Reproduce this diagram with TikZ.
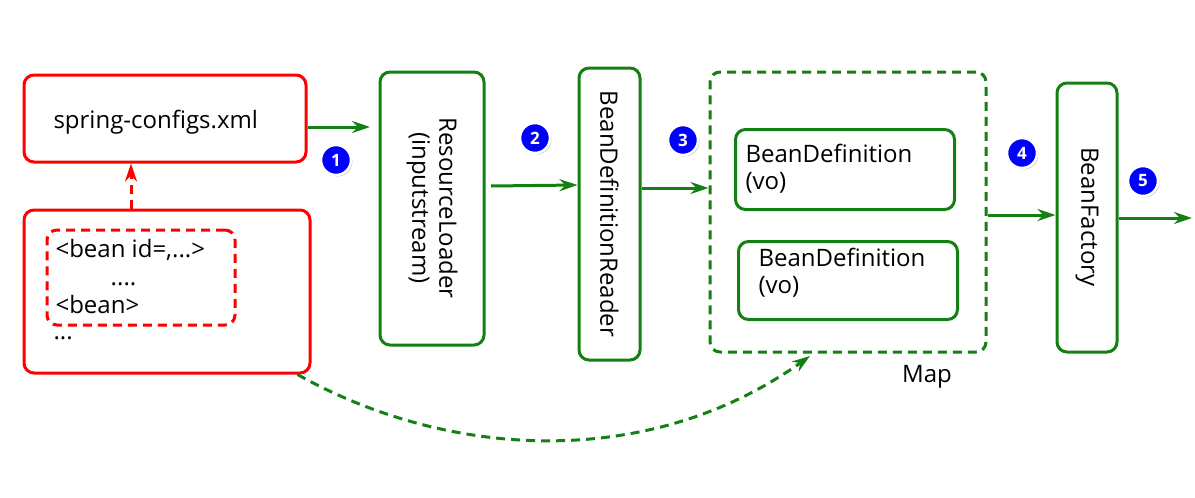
\documentclass[tikz,border=0pt]{standalone}
\usepackage{fontspec}
\setmainfont{Open Sans}
\usetikzlibrary{arrows.meta,shadows}
\definecolor{gr}{RGB}{20,128,20}
\begin{document}
\begin{tikzpicture}[x=1pt,y=-1pt,
 font=\fontsize{24}{32}\selectfont,
 dsh/.style={dash pattern=on 9pt off 6pt},
 rbox/.style={draw=red,line width=3pt,rounded corners=10pt},
 gbox/.style={draw=gr,line width=3pt,rounded corners=10pt},
 garr/.style={draw=gr,line width=3pt,-{Stealth[length=18pt,width=12pt]}},
 num/.style={circle,fill=blue,draw=white,line width=2.5pt,text=white,inner sep=0pt,minimum size=30pt,font=\bfseries\fontsize{17}{17}\selectfont,drop shadow={shadow xshift=1.5pt,shadow yshift=-1.5pt,opacity=0.4}}]
\useasboundingbox (0,0) rectangle (1195,498);
\node[rbox,minimum width=282pt,minimum height=87pt] (cfg) at (165,118.5) {};
\node[anchor=west] (cfgt) at (50,122) {spring-configs.xml};
\node[rbox,minimum width=286pt,minimum height=163pt] (bean) at (167,291.5) {};
\node[rbox,dsh,minimum width=188pt,minimum height=95pt] (inner) at (141,277.5) {};
\node[anchor=west,align=left] (bt) at (52,276) {<bean id=,...>\\[-4pt]\hspace*{2.3em}....\\[-4pt]<bean>};
\node[anchor=west] (dots) at (50,338) {...};
\node[gbox,minimum width=104pt,minimum height=273pt] (rl) at (432,208.5) {};
\node[rotate=-90,align=center] (rlt) at (432,208) {ResourceLoader\\[-5pt](inputstream)};
\node[gbox,minimum width=61pt,minimum height=292pt] (bdr) at (609.5,214) {};
\node[rotate=-90] (bdrt) at (609.5,214) {BeanDefinitionReader};
\node[gbox,dsh,minimum width=276pt,minimum height=280pt] (map) at (848,212) {};
\node (mapt) at (927,377) {Map};
\node[gbox,minimum width=219pt,minimum height=80pt,anchor=north west] (bd1) at (734,128) {};
\node[anchor=north west,align=left] (bd1t) at (742,141) {BeanDefinition\\[-5pt](vo)};
\node[gbox,minimum width=219pt,minimum height=78pt,anchor=north west] (bd2) at (737,240) {};
\node[anchor=north west,align=left] (bd2t) at (755,245) {BeanDefinition\\[-5pt](vo)};
\node[gbox,minimum width=60pt,minimum height=269pt] (bf) at (1087,217.5) {};
\node[rotate=-90] (bft) at (1087,217) {BeanFactory};
\coordinate (e) at (1192,218);
\draw[garr] (cfg.east |- 0,127) -- (370,127);
\draw[garr] (491,186) -- (bdr.west |- 0,185);
\draw[garr] (bdr.east |- 0,188) -- (map.west |- 0,188);
\draw[garr] (map.east |- 0,215) -- (bf.west |- 0,215);
\draw[garr] (bf.east |- 0,218) -- (e);
\draw[draw=red,line width=3pt,dsh,-{Stealth[length=18pt,width=12pt]}] (bean.north -| 131,0) -- (cfg.south -| 131,0);
\draw[draw=gr,line width=3pt,dsh,-{Stealth[length=18pt,width=12pt]}] (bean.south east) ++(-14,0) .. controls (450,460) and (650,470) .. (810,356);
\node[num] (n1) at (336,160) {1};
\node[num] (n2) at (535,138) {2};
\node[num] (n3) at (683,140) {3};
\node[num] (n4) at (1022,153) {4};
\node[num] (n5) at (1143,181) {5};
\end{tikzpicture}
\end{document}
